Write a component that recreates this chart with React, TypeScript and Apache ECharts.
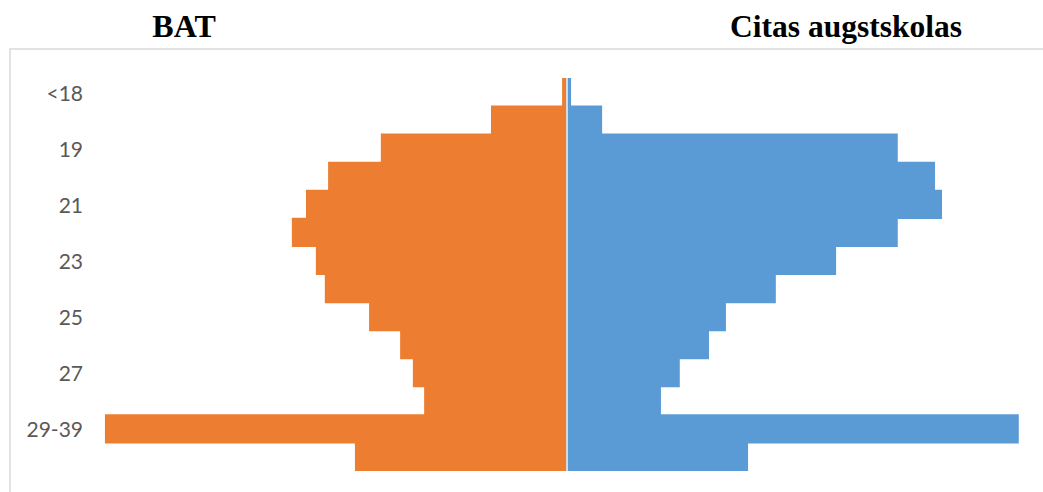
import React, { useEffect, useRef } from "react";
import * as echarts from "echarts";

const categories = ["<18", "18", "19", "20", "21", "22", "23", "24", "25", "26", "27", "28", "29-39", ">39"];
const batValues = [1.0, 16.1, 39.5, 50.7, 55.4, 58.4, 53.3, 51.4, 42.0, 35.4, 32.7, 30.3, 98.1, 45.0];
const otherValues = [0.9, 7.5, 70.3, 78.2, 79.7, 70.3, 57.2, 44.4, 33.8, 30.2, 24.0, 20.0, 96.0, 38.5];
const titles = ["BAT", "Citas augstskolas"];

export default function App() {
  const ref = useRef<HTMLDivElement>(null);
  useEffect(() => {
    if (!ref.current) return;
    const chart = echarts.init(ref.current, null, { renderer: "svg" });
    chart.setOption({
      animation: false,
      backgroundColor: "#ffffff",
      grid: { left: 96, right: 5.4, top: 78, bottom: 21, containLabel: false },
      xAxis: {
        type: "value",
        min: -100,
        max: 100,
        show: false,
      },
      yAxis: {
        type: "category",
        data: categories,
        inverse: true,
        axisLine: { show: false },
        axisTick: { show: false },
        splitLine: { show: false },
        axisLabel: {
          interval: 1,
          margin: 13,
          color: "#595959",
          fontSize: 21,
          fontFamily: "Lato",
        },
      },
      graphic: [
        {
          type: "rect",
          shape: { x: 10, y: 49, width: 1100, height: 600 },
          style: { fill: "none", stroke: "#d9d9d9", lineWidth: 1.5 },
          silent: true,
          z: -10,
        },
        {
          type: "text",
          x: 184,
          y: 26,
          style: {
            text: titles[0],
            font: "bold 32px 'Liberation Serif'",
            fill: "#000000",
            textAlign: "center",
            textVerticalAlign: "middle",
          },
        },
        {
          type: "text",
          x: 846,
          y: 26,
          style: {
            text: titles[1],
            font: "bold 31.5px 'Liberation Serif'",
            fill: "#000000",
            textAlign: "center",
            textVerticalAlign: "middle",
          },
        },
      ],
      series: [
        {
          name: titles[0],
          type: "bar",
          stack: "total",
          data: batValues.map((v) => -v),
          barWidth: 29.2,
          barGap: "-100%",
          itemStyle: { color: "#ed7d31" },
          silent: true,
        },
        {
          name: titles[1],
          type: "bar",
          stack: "total",
          data: otherValues,
          barWidth: 29.2,
          barGap: "-100%",
          itemStyle: { color: "#5b9bd5" },
          silent: true,
          markLine: {
            silent: true,
            symbol: "none",
            label: { show: false },
            lineStyle: { color: "#d9d9d9", width: 2, type: "solid" },
            data: [{ xAxis: 0 }],
          },
        },
      ],
    });
    return () => chart.dispose();
  }, []);
  return (
    <div
      ref={ref}
      style={{ position: "fixed", left: 0, top: 0, width: 1043, height: 492 }}
    />
  );
}
